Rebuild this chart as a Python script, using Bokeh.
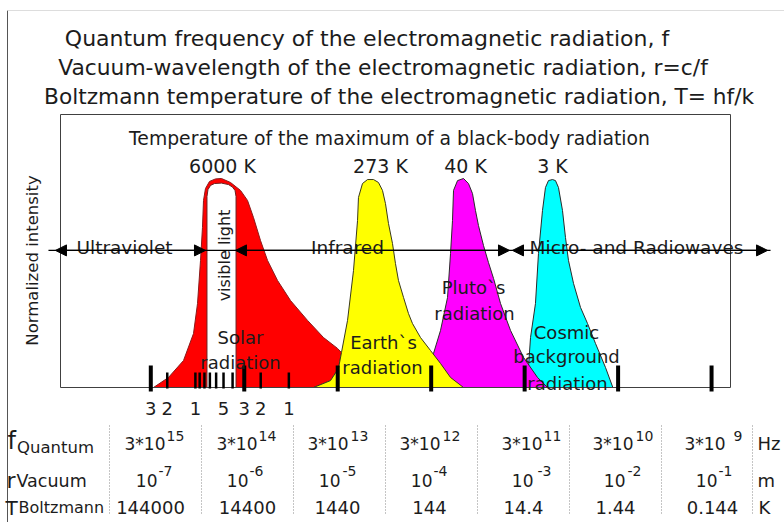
import math
from bokeh.plotting import figure
from bokeh.models import Range1d, Arrow, NormalHead
from bokeh.core.properties import value
from bokeh.embed import file_html
from bokeh.resources import INLINE

# ---------------- data ----------------
C_LIGHT = 3.0e8  # m/s

major_freq_hz = [3e15, 3e14, 3e13, 3e12, 3e11, 3e10, 3e9]
minor_freq_hz = [2e15, 1e15, 9e14, 8e14, 7e14, 6e14, 5e14, 4e14, 2e14, 1e14]
tick_label_freq_hz = [3e15, 2e15, 1e15, 5e14, 3e14, 2e14, 1e14]
tick_label_text = ["3", "2", "1", "5", "3", "2", "1"]

# curves: log10(wavelength / m) and normalized intensity
solar_logw = [-6.971, -6.811, -6.650, -6.543, -6.500, -6.468, -6.447, -6.436, -6.415, -6.372,
              -6.308, -6.244, -6.147, -6.040, -5.965, -5.901, -5.826, -5.751, -5.644, -5.505,
              -5.323, -5.152, -5.002, -4.960, -4.992, -5.077, -5.259]
solar_int = [0.0, 0.048, 0.129, 0.258, 0.402, 0.608, 0.766, 0.895, 0.952, 0.986,
             0.998, 1.0, 0.981, 0.943, 0.895, 0.813, 0.703, 0.608, 0.512, 0.416,
             0.321, 0.239, 0.187, 0.167, 0.091, 0.033, 0.0]

earth_logw = [-5.259, -5.077, -4.992, -4.960, -4.895, -4.831, -4.788, -4.778, -4.735, -4.681,
              -4.617, -4.564, -4.521, -4.489, -4.457, -4.414, -4.382, -4.350, -4.296, -4.243,
              -4.200, -4.114, -4.007, -3.900, -3.793, -3.654]
earth_int = [0.0, 0.033, 0.091, 0.167, 0.321, 0.560, 0.799, 0.909, 0.976, 0.995,
             0.995, 0.981, 0.943, 0.880, 0.785, 0.689, 0.593, 0.512, 0.431, 0.354,
             0.306, 0.239, 0.177, 0.115, 0.048, 0.0]

pluto_logw = [-4.061, -3.975, -3.900, -3.825, -3.793, -3.772, -3.761, -3.718, -3.654, -3.601,
              -3.558, -3.526, -3.494, -3.440, -3.387, -3.333, -3.258, -3.151, -3.012, -2.862,
              -2.755]
pluto_int = [0.0, 0.163, 0.273, 0.431, 0.641, 0.799, 0.943, 0.990, 1.0, 0.976,
             0.928, 0.847, 0.775, 0.679, 0.598, 0.522, 0.402, 0.273, 0.144, 0.048,
             0.0]

cosmic_logw = [-3.044, -2.959, -2.937, -2.884, -2.852, -2.809, -2.777, -2.745, -2.702, -2.670,
               -2.638, -2.595, -2.563, -2.531, -2.477, -2.402, -2.327, -2.242, -2.135, -2.056]
cosmic_int = [0.0, 0.096, 0.239, 0.402, 0.641, 0.847, 0.957, 0.990, 0.995, 0.990,
              0.957, 0.847, 0.718, 0.608, 0.498, 0.383, 0.306, 0.211, 0.096, 0.0]

visible_logw = [-6.399, -6.399, -6.388, -6.361, -6.318, -6.244, -6.169, -6.126, -6.099, -6.088, -6.088]
visible_int = [0.0, 0.914, 0.947, 0.967, 0.976, 0.978, 0.971, 0.959, 0.943, 0.914, 0.0]

region_names = ["Ultraviolet", "Infrared", "Micro- and Radiowaves"]
region_start_logw = [-8.020, -6.094, -3.130]
region_end_logw = [-6.415, -3.162, -0.401]
band_logw = [-8.095, -0.369]
band_int = 0.656

peak_labels = ["6000 K", "273 K", "40 K", "3 K"]

freq_mantissa = "3*10"
freq_exp = ["15", "14", "13", "12", "11", "10", "9"]
wave_mantissa = "10"
wave_exp = ["-7", "-6", "-5", "-4", "-3", "-2", "-1"]
temp_vals = ["144000", "14400", "1440", "144", "14.4", "1.44", "0.144"]

# ---------------- layout helpers (canvas pixels -> data) ----------------
W, H = 784, 522

def PX(x):
    return -7 + (x - 150.3) / 93.46

def PY(y):
    return (387.0 - y) / 209.0

FONT = value("DejaVu Sans")
TXT = "#1c1c1c"

p = figure(width=W, height=H, x_range=Range1d(PX(0), PX(W)), y_range=Range1d(PY(H), PY(0)),
           toolbar_location=None, output_backend="svg", min_border=0)
p.axis.visible = False
p.grid.visible = False
p.outline_line_color = None
p.background_fill_color = "white"

def txt(x, y, s, size, align="center", baseline="alphabetic", angle=0.0, color=TXT):
    p.text(x=[PX(x)], y=[PY(y)], text=[s], text_font=FONT, text_font_size=f"{size}px",
           text_align=align, text_baseline=baseline, angle=angle, text_color=color)

# frame lines of the original picture
p.segment(x0=[PX(7)], y0=[PY(10)], x1=[PX(7)], y1=[PY(H)], line_color="#555555", line_width=1)
p.segment(x0=[PX(7)], y0=[PY(10)], x1=[PX(W)], y1=[PY(10)], line_color="#dddddd", line_width=1)

# curves (right to left so left tails overlap)
p.patch(cosmic_logw, cosmic_int, fill_color="#00ffff", line_color="#2a2a2a", line_width=1)
p.patch(pluto_logw, pluto_int, fill_color="#ff00ff", line_color="#2a2a2a", line_width=1)
p.patch(solar_logw, solar_int, fill_color="#ff0000", line_color="#8b1a1a", line_width=1)
p.patch(earth_logw, earth_int, fill_color="#ffff00", line_color="#3a3a1a", line_width=1)
p.patch(visible_logw, visible_int, fill_color="white", line_color="#6b2020", line_width=1)

# plot box
p.quad(left=[PX(60)], right=[PX(730)], bottom=[PY(387)], top=[PY(114)],
       fill_color=None, line_color="#404040", line_width=1)

# ticks
maj_x = [math.log10(C_LIGHT / f) for f in major_freq_hz]
min_x = [math.log10(C_LIGHT / f) for f in minor_freq_hz]
p.segment(x0=maj_x, y0=[PY(365)] * len(maj_x), x1=maj_x, y1=[PY(391)] * len(maj_x),
          line_color="black", line_width=4)
p.segment(x0=min_x, y0=[PY(372)] * len(min_x), x1=min_x, y1=[PY(388)] * len(min_x),
          line_color="black", line_width=2.5)
lab_x = [math.log10(C_LIGHT / f) for f in tick_label_freq_hz]
p.text(x=lab_x, y=[PY(408)] * len(lab_x), text=tick_label_text, text_font=FONT,
       text_font_size="18px", text_align="center", text_baseline="alphabetic", text_color=TXT)

# band line with arrows
p.segment(x0=[band_logw[0]], y0=[band_int], x1=[band_logw[1]], y1=[band_int],
          line_color="black", line_width=1.2)
for xs, xe in zip(region_start_logw, region_end_logw):
    p.add_layout(Arrow(start=NormalHead(size=11, fill_color="black", line_color="black"),
                       end=NormalHead(size=11, fill_color="black", line_color="black"),
                       x_start=xs, y_start=band_int, x_end=xe, y_end=band_int,
                       line_color="black", line_width=1.2))

# titles
txt(366.5, 38, "Quantum frequency of the electromagnetic radiation, f", 22)
txt(382.5, 67, "Vacuum-wavelength of the electromagnetic radiation, r=c/f", 21.8)
txt(398.5, 96, "Boltzmann temperature of the electromagnetic radiation, T= hf/k", 21.7)

txt(389, 138, "Temperature of the maximum of a black-body radiation", 18.8)
for xx, s in zip([222, 380, 465, 552], peak_labels):
    txt(xx, 165, s, 19)

# region labels
for xx, s in zip([124, 347, 636], region_names):
    txt(xx, 246.5, s, 18.5)

# vertical labels
txt(32, 260, "Normalized intensity", 16.5, baseline="middle", angle=math.pi / 2)
txt(224, 255, "visible light", 16, baseline="middle", angle=math.pi / 2)

# curve labels
txt(240, 337, "Solar", 18)
txt(240, 362, "radiation", 18)
txt(383, 342, "Earth`s", 18)
txt(382, 367, "radiation", 18)
txt(473, 287, "Pluto`s", 18)
txt(474, 313, "radiation", 18)
txt(566, 332, "Cosmic", 18)
txt(566, 356, "background", 18)
txt(567, 383, "radiation", 18)

# table
sep_x = [109, 201, 293, 385, 477, 569, 661, 752]
for sx in sep_x:
    p.segment(x0=[PX(sx)], y0=[PY(425)], x1=[PX(sx)], y1=[PY(513)],
              line_color="#8a8a8a", line_width=1, line_dash="1 2")

txt(7, 440, "f", 24, align="left")
txt(16.5, 447, "Quantum", 16.5, align="left")
txt(6, 480, "r", 22, align="left")
txt(16, 480, "Vacuum", 17.5, align="left")
txt(5, 507, "T", 20, align="left")
txt(18, 507, "Boltzmann", 16, align="left")

row1_main_right = [165, 257, 348, 440, 542, 633, 725]
row1_sup_left = [166, 258, 350, 442, 543, 635, 733]
for mx, sx, e in zip(row1_main_right, row1_sup_left, freq_exp):
    txt(mx, 443, freq_mantissa, 17, align="right")
    txt(sx, 435, e, 14, align="left")

row2_main_right = [157, 248, 340, 432, 533, 625, 717]
row2_sup_left = [158, 249, 342, 433, 537, 627, 718]
for mx, sx, e in zip(row2_main_right, row2_sup_left, wave_exp):
    txt(mx, 480, wave_mantissa, 17, align="right")
    txt(sx, 470, e, 14, align="left")

row3_center = [150, 247, 337, 429, 523, 615, 712]
for cx, s in zip(row3_center, temp_vals):
    txt(cx, 507, s, 18)

txt(757, 443, "Hz", 18, align="left")
txt(757, 480, "m", 18, align="left")
txt(758, 507, "K", 18, align="left")

open("out.html", "w").write(file_html(p, INLINE))
